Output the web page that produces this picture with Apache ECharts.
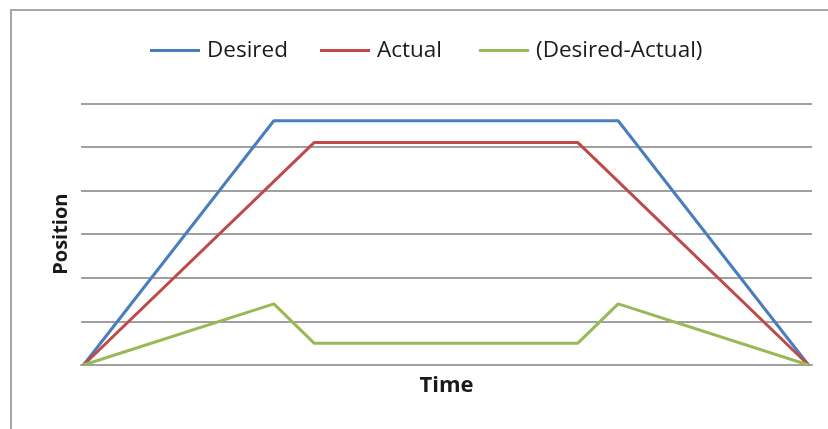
<!DOCTYPE html>
<html>
<head>
<meta charset="utf-8">
<script src="https://cdn.jsdelivr.net/npm/echarts@6/dist/echarts.min.js"></script>
<style>
  html, body { margin: 0; padding: 0; background: #ffffff; }
  #chart { width: 828px; height: 429px; }
</style>
</head>
<body>
<div id="chart"></div>
<script>
// Motion profile: time stamps of the profile corners
var desiredTime = [0, 18.9, 53.1, 72];
var desiredPos  = [0, 5.6, 5.6, 0];

var actualTime = [0, 22.9, 49.1, 72];
var actualPos  = [0, 5.1, 5.1, 0];

var errorTime = [0, 18.9, 22.9, 49.1, 53.1, 72];
var errorPos  = [0, 1.4, 0.5, 0.5, 1.4, 0];

var seriesNames = ['Desired', 'Actual', '(Desired-Actual)'];
var seriesColors = ['#4a7ebb', '#be4b48', '#98b954'];

function pairs(xs, ys) {
  return xs.map(function (x, i) { return [x, ys[i]]; });
}

var chart = echarts.init(document.getElementById('chart'), null, { renderer: 'canvas' });

var fontFamily = '"Open Sans", "Noto Sans", sans-serif';
var gridColor = '#a0a0a0';

function legendAt(name, left) {
  return {
    data: [name],
    left: left,
    top: 39,
    padding: 0,
    icon: 'rect',
    itemWidth: 50,
    itemHeight: 3,
    itemGap: 0,
    selectedMode: false,
    textStyle: { fontFamily: fontFamily, fontSize: 22.5, color: '#1a1a1a', padding: [0, 0, 0, 2] }
  };
}

var option = {
  animation: false,
  backgroundColor: '#ffffff',
  color: seriesColors,
  graphic: [{
    type: 'rect',
    shape: { x: 11, y: 10, width: 900, height: 600 },
    style: { fill: 'none', stroke: '#a6a6a6', lineWidth: 2 },
    silent: true
  }],
  legend: [
    legendAt(seriesNames[0], 150),
    legendAt(seriesNames[1], 320),
    legendAt(seriesNames[2], 479)
  ],
  grid: { left: 81, right: 16, top: 103.3, bottom: 64 },
  xAxis: {
    type: 'value',
    min: -0.25,
    max: 72.35,
    name: 'Time',
    nameLocation: 'middle',
    nameGap: 10,
    nameTextStyle: { fontFamily: fontFamily, fontSize: 22, fontWeight: 'bold', color: '#1a1a1a', verticalAlign: 'top' },
    axisLine: { show: true, lineStyle: { color: gridColor, width: 2 } },
    axisTick: { show: false },
    axisLabel: { show: false },
    splitLine: { show: false }
  },
  yAxis: {
    type: 'value',
    min: 0,
    max: 6,
    interval: 1,
    name: 'Position',
    nameLocation: 'middle',
    nameRotate: 90,
    nameGap: 10,
    nameTextStyle: { fontFamily: fontFamily, fontSize: 20, fontWeight: 'bold', color: '#1a1a1a' },
    axisLine: { show: false },
    axisTick: { show: false },
    axisLabel: { show: false },
    splitLine: { show: true, lineStyle: { color: gridColor, width: 2 } }
  },
  series: [
    {
      name: seriesNames[0], type: 'line', symbol: 'none',
      lineStyle: { width: 3, color: seriesColors[0] },
      itemStyle: { color: seriesColors[0] },
      data: pairs(desiredTime, desiredPos)
    },
    {
      name: seriesNames[1], type: 'line', symbol: 'none',
      lineStyle: { width: 3, color: seriesColors[1] },
      itemStyle: { color: seriesColors[1] },
      data: pairs(actualTime, actualPos)
    },
    {
      name: seriesNames[2], type: 'line', symbol: 'none',
      lineStyle: { width: 3, color: seriesColors[2] },
      itemStyle: { color: seriesColors[2] },
      data: pairs(errorTime, errorPos)
    }
  ]
};

chart.setOption(option);
</script>
</body>
</html>
